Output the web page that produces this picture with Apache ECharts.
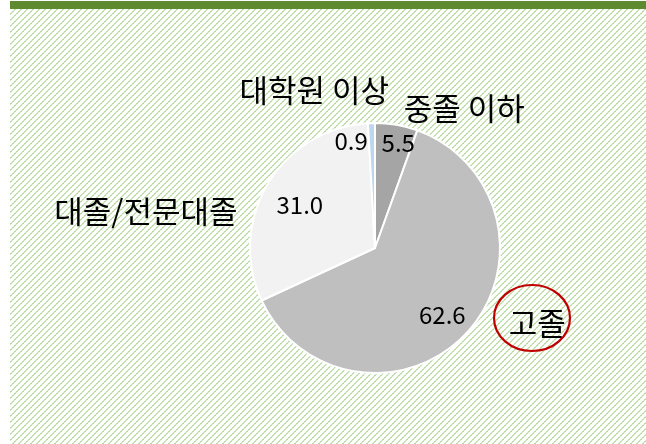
<!DOCTYPE html>
<html>
<head>
<meta charset="utf-8">
<script src="https://cdn.jsdelivr.net/npm/echarts@6/dist/echarts.min.js"></script>
<style>
html,body{margin:0;padding:0;background:#fff;}
#chart{width:646px;height:444px;}
</style>
</head>
<body>
<div id="chart"></div>
<script>
// Data
const categories = ['중졸 이하', '고졸', '대졸/전문대졸', '대학원 이상'];
const values = [5.5, 62.6, 31.0, 0.9];
const valueLabels = ['5.5', '62.6', '31.0', '0.9'];

// Styling
const sliceColors = ['#a5a5a5', '#bfbfbf', '#f2f2f2', '#bdd7ee'];
const valueOffsets = [[12, -41], [19, 23], [-19, -9], [-22, -42]];
const nameOffsets = [[78, -75], [114, 31], [-173, -3], [-59, -92]];

// hatch pattern tile (wide upward diagonal, light green)
const tile = document.createElement('canvas');
tile.width = 6; tile.height = 6;
const tctx = tile.getContext('2d');
for (let i = 0; i < 6; i += 1) {
  tctx.fillStyle = (i % 2 === 0) ? '#bcdca6' : '#d0e7c0';
  tctx.fillRect(i, 5 - i, 1, 1);
  tctx.fillRect((i + 1) % 6, 5 - i, 1, 1);
}

const chart = echarts.init(document.getElementById('chart'), null, {renderer: 'canvas'});
const font = '"Noto Sans CJK KR", "Noto Sans", sans-serif';

const valueData = categories.map((c, i) => ({
  name: c, value: values[i],
  itemStyle: {color: sliceColors[i]},
  label: {offset: valueOffsets[i]}
}));
const nameData = categories.map((c, i) => ({
  name: c, value: values[i],
  label: {offset: nameOffsets[i]}
}));

chart.setOption({
  animation: false,
  backgroundColor: '#ffffff',
  graphic: [
    {type: 'rect', z: -10, silent: true, shape: {x: 10, y: 9, width: 636, height: 435},
     style: {fill: {image: tile, repeat: 'repeat'}}},
    {type: 'rect', z: -9, silent: true, shape: {x: 10, y: 1, width: 636, height: 8},
     style: {fill: '#5f8b30'}},
    {type: 'ellipse', z: 10, silent: true, shape: {cx: 532, cy: 318, rx: 38, ry: 33},
     style: {fill: 'none', stroke: '#c00000', lineWidth: 2.2}}
  ],
  series: [
    {
      type: 'pie',
      center: [375, 248],
      radius: [0, 125],
      startAngle: 90,
      clockwise: true,
      silent: true,
      itemStyle: {borderColor: '#ffffff', borderWidth: 2},
      label: {
        show: true, position: 'inside',
        formatter: p => valueLabels[p.dataIndex],
        fontFamily: font, fontSize: 24, color: '#000'
      },
      labelLine: {show: false},
      data: valueData
    },
    {
      type: 'pie',
      center: [375, 248],
      radius: [0, 125],
      startAngle: 90,
      clockwise: true,
      silent: true,
      itemStyle: {color: 'rgba(0,0,0,0)', borderWidth: 0},
      label: {
        show: true, position: 'inside',
        formatter: '{b}',
        fontFamily: font, fontSize: 31, color: '#000'
      },
      labelLine: {show: false},
      data: nameData
    }
  ]
});
</script>
</body>
</html>
